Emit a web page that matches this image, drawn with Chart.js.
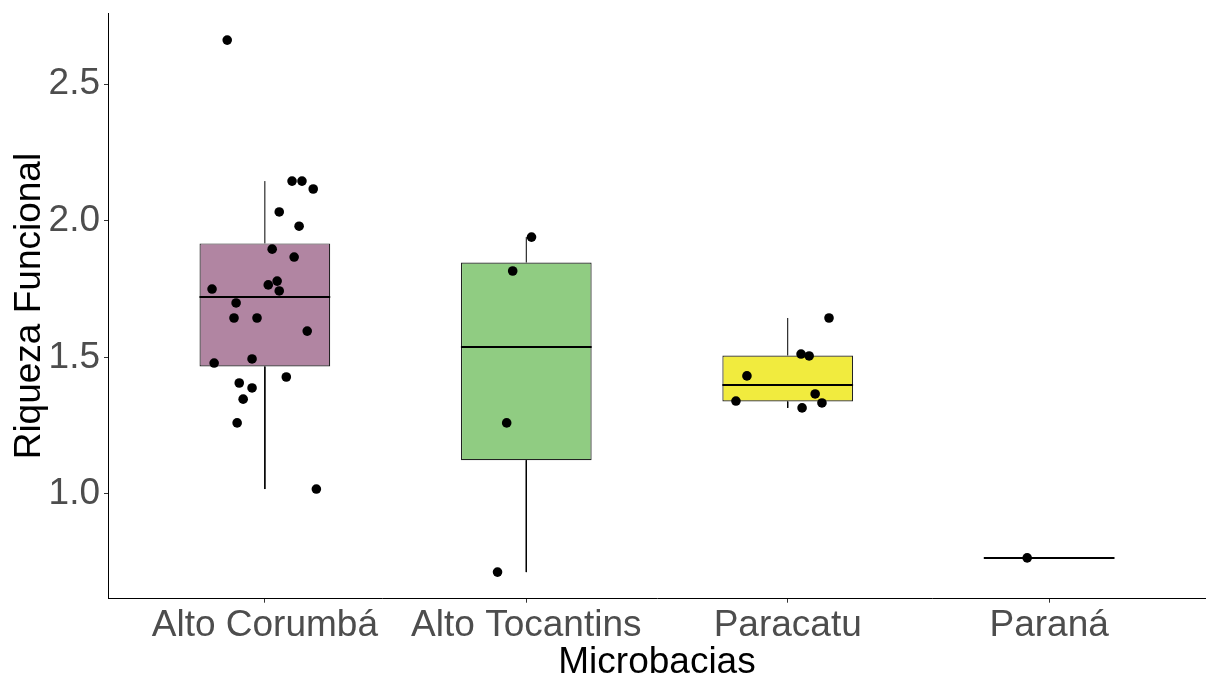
<!DOCTYPE html>
<html>
<head>
<meta charset="utf-8">
<script src="https://cdn.jsdelivr.net/npm/chart.js@4.4.1/dist/chart.umd.min.js"></script>
<style>
  html, body { margin: 0; padding: 0; background: #ffffff; }
  canvas { display: block; }
</style>
</head>
<body>
<canvas id="chart" width="1206" height="677"></canvas>
<script>
// Watersheds on the x axis
const categories = ['Alto Corumbá', 'Alto Tocantins', 'Paracatu', 'Paraná'];

// Functional richness per site, one array per watershed
const altoCorumba = [2.661, 2.145, 2.145, 2.116, 2.032, 1.980, 1.896, 1.867, 1.779, 1.765, 1.743, 1.750,
                     1.699, 1.644, 1.644, 1.596, 1.494, 1.479, 1.428, 1.406, 1.388, 1.347, 1.260, 1.018];
const altoTocantins = [1.940, 1.816, 1.260, 0.714];
const paracatu = [1.644, 1.512, 1.505, 1.432, 1.340, 1.366, 1.333, 1.315];
const parana = [0.766];

// Horizontal jitter of each site's point (in category units)
const jitterAltoCorumba = [-0.144, 0.104, 0.142, 0.185, 0.055, 0.131, 0.028, 0.112, 0.047, 0.013, 0.055, -0.202,
                           -0.110, -0.118, -0.030, 0.162, -0.049, -0.194, 0.082, -0.098, -0.049, -0.083, -0.106, 0.197];
const jitterAltoTocantins = [0.020, -0.052, -0.075, -0.110];
const jitterParacatu = [0.158, 0.051, 0.082, -0.156, -0.198, 0.105, 0.131, 0.055];
const jitterParana = [-0.084];

// Box fill per watershed
const boxColors = ['#B185A2', '#90CC82', '#F1EB3E', '#7FA8D8'];

// Y axis ticks
const yTickValues = [1.0, 1.5, 2.0, 2.5];
const yTickLabels = ['1.0', '1.5', '2.0', '2.5'];

const groups = [altoCorumba, altoTocantins, paracatu, parana];
const jitters = [jitterAltoCorumba, jitterAltoTocantins, jitterParacatu, jitterParana];

// Quantile with linear interpolation (R type 7)
function quantile(sorted, p) {
  const h = (sorted.length - 1) * p;
  const lo = Math.floor(h), hi = Math.ceil(h);
  return sorted[lo] + (h - lo) * (sorted[hi] - sorted[lo]);
}

function boxStats(values) {
  const s = values.slice().sort((a, b) => a - b);
  const q1 = quantile(s, 0.25), med = quantile(s, 0.5), q3 = quantile(s, 0.75);
  const iqr = q3 - q1;
  const upper = Math.max(...s.filter(v => v <= q3 + 1.5 * iqr));
  const lower = Math.min(...s.filter(v => v >= q1 - 1.5 * iqr));
  return { q1, med, q3, upper, lower };
}

const stats = groups.map(boxStats);
const halfBox = 0.25;

const boxData = stats.map((st, i) => ({ x: i, y: [st.q1, st.q3] }));

const whiskerData = [];
stats.forEach((st, i) => {
  whiskerData.push({ x: i, y: st.q3 }, { x: i, y: st.upper }, { x: i, y: null });
  whiskerData.push({ x: i, y: st.q1 }, { x: i, y: st.lower }, { x: i, y: null });
});

const medianData = [];
stats.forEach((st, i) => {
  medianData.push({ x: i - halfBox, y: st.med }, { x: i + halfBox, y: st.med }, { x: i, y: null });
});

const pointData = [];
groups.forEach((vals, i) => {
  vals.forEach((v, k) => pointData.push({ x: i + jitters[i][k], y: v }));
});

// Y limits padded by 5% of the data range
const allValues = groups.flat();
const dMin = Math.min(...allValues), dMax = Math.max(...allValues);
const pad = 0.05 * (dMax - dMin);

const labelFont = { family: "'Liberation Sans', Arial, sans-serif", size: 37 };

// Keep the plot area fixed: no extra room reserved for overhanging labels
function noScalePadding(scale) {
  scale.paddingTop = 0;
  scale.paddingBottom = 0;
  scale.paddingLeft = 0;
  scale.paddingRight = 0;
}

new Chart(document.getElementById('chart'), {
  type: 'scatter',
  data: {
    datasets: [
      {
        type: 'scatter',
        data: pointData,
        order: 0,
        pointRadius: 4.8,
        pointHoverRadius: 4.8,
        backgroundColor: '#000000',
        borderWidth: 0
      },
      {
        type: 'line',
        data: medianData,
        order: 1,
        borderColor: '#000000',
        borderWidth: 2,
        pointRadius: 0,
        spanGaps: false,
        fill: false
      },
      {
        type: 'line',
        data: whiskerData,
        order: 2,
        borderColor: '#000000',
        borderWidth: 1,
        pointRadius: 0,
        spanGaps: false,
        fill: false
      },
      {
        type: 'bar',
        data: boxData,
        order: 3,
        backgroundColor: boxColors,
        borderColor: '#222222',
        borderWidth: 1.2,
        borderSkipped: false,
        categoryPercentage: 1,
        barPercentage: 0.5
      }
    ]
  },
  options: {
    responsive: false,
    animation: false,
    devicePixelRatio: 1,
    layout: { autoPadding: false, padding: { top: 13.5, right: 0, bottom: 0, left: 0 } },
    plugins: { legend: { display: false }, tooltip: { enabled: false } },
    scales: {
      x: {
        type: 'linear',
        min: -0.6,
        max: 3.6,
        offset: false,
        afterBuildTicks: scale => { scale.ticks = categories.map((c, i) => ({ value: i })); },
        afterFit: scale => { scale.height = 78.3; noScalePadding(scale); },
        ticks: {
          callback: v => categories[v],
          color: '#4D4D4D',
          font: labelFont,
          padding: 1,
          maxRotation: 0,
          autoSkip: false
        },
        grid: { display: true, offset: false, drawOnChartArea: false, drawTicks: true, tickLength: 4, tickColor: '#333333' },
        border: { display: true, color: '#000000', width: 1 },
        title: {
          display: true,
          text: 'Microbacias',
          color: '#000000',
          font: { family: "'Liberation Sans', Arial, sans-serif", size: 37, lineHeight: 0.75 },
          padding: 0
        }
      },
      y: {
        type: 'linear',
        min: dMin - pad,
        max: dMax + pad,
        afterBuildTicks: scale => { scale.ticks = yTickValues.map(v => ({ value: v })); },
        afterFit: scale => { scale.width = 108; noScalePadding(scale); },
        ticks: {
          callback: v => yTickLabels[yTickValues.indexOf(v)],
          color: '#4D4D4D',
          font: labelFont,
          padding: 4
        },
        grid: { display: true, drawOnChartArea: false, drawTicks: true, tickLength: 4, tickColor: '#333333' },
        border: { display: true, color: '#000000', width: 1 },
        title: {
          display: true,
          text: 'Riqueza Funcional',
          color: '#000000',
          font: { family: "'Liberation Sans', Arial, sans-serif", size: 37, lineHeight: 1 },
          padding: 11
        }
      }
    }
  }
});
</script>
</body>
</html>
